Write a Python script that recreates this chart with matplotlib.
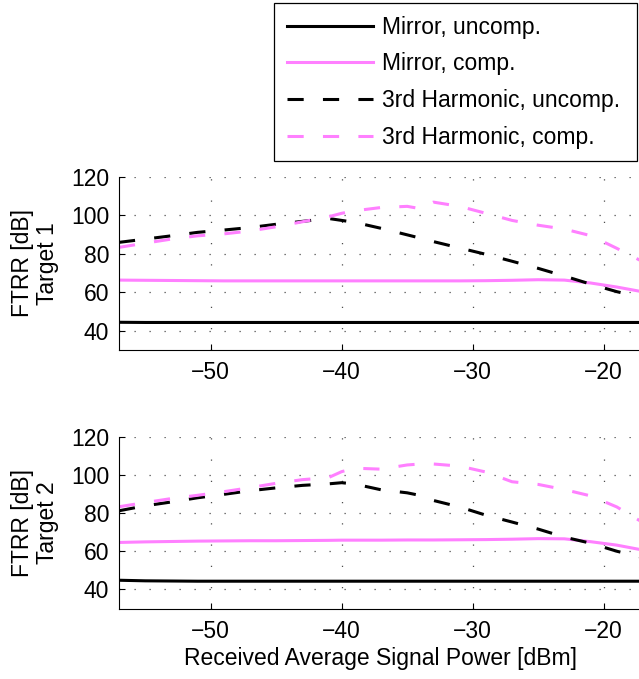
import matplotlib.pyplot as plt
import numpy as np

plt.rcParams['font.family'] = ['Liberation Sans', 'DejaVu Sans']
plt.rcParams['font.size'] = 16.5

# received average signal power [dBm]
x = [-57, -55, -53, -51, -49, -47, -45, -43, -41, -40, -39, -37,
     -35, -34, -33, -31, -29, -27, -25, -23, -21, -19, -17]

# target 1
mirror_unc1 = [44.4, 44.3, 44.3, 44.3, 44.3, 44.3, 44.3, 44.3, 44.3, 44.3, 44.3, 44.3,
               44.3, 44.3, 44.3, 44.3, 44.3, 44.3, 44.3, 44.3, 44.3, 44.3, 44.3]
mirror_comp1 = [66.3, 66.2, 66.1, 66.0, 65.9, 65.9, 65.9, 65.9, 65.9, 65.9, 65.9, 65.9,
                65.9, 65.9, 65.9, 65.9, 66.0, 66.2, 66.5, 66.3, 64.8, 62.7, 60.2]
harm_unc1 = [85.9, 87.6, 89.3, 91.1, 92.3, 93.6, 95.3, 96.8, 98.3, 97.3, 96.3, 93.2,
             89.8, 88.1, 86.3, 83.0, 79.7, 76.1, 72.4, 68.4, 64.2, 60.3, 57.1]
harm_comp1 = [83.3, 85.5, 87.6, 89.3, 90.3, 91.8, 94.0, 96.6, 99.2, 101.0, 102.3, 104.0,
              104.6, 103.4, 106.8, 104.6, 101.0, 97.3, 94.8, 92.8, 89.4, 82.8, 75.8]

# target 2
mirror_unc2 = [44.8, 44.5, 44.4, 44.3, 44.3, 44.3, 44.3, 44.3, 44.3, 44.3, 44.3, 44.3,
               44.3, 44.3, 44.3, 44.3, 44.3, 44.3, 44.3, 44.3, 44.3, 44.3, 44.3]
mirror_comp2 = [64.6, 64.9, 65.1, 65.3, 65.4, 65.5, 65.5, 65.6, 65.7, 65.8, 65.8, 65.8,
                65.9, 65.9, 65.9, 66.0, 66.1, 66.3, 66.6, 66.5, 65.0, 63.2, 60.6]
harm_unc2 = [81.2, 83.8, 85.8, 88.0, 89.8, 91.7, 93.2, 94.5, 95.3, 95.9, 95.2, 92.2,
             90.6, 89.2, 86.6, 83.2, 78.9, 75.3, 71.6, 67.4, 64.2, 60.0, 56.7]
harm_comp2 = [83.3, 85.5, 87.6, 89.3, 91.2, 93.3, 95.6, 97.5, 98.6, 101.7, 103.5, 103.0,
              105.2, 105.7, 105.7, 104.6, 101.5, 96.4, 95.0, 92.3, 89.0, 83.2, 75.0]

labels = ['Mirror, uncomp.', 'Mirror, comp.', '3rd Harmonic, uncomp.', '3rd Harmonic, comp.']
pink = '#ff80ff'
lw = 2.2
dash = (0, (5.3, 6.3))

W, H = 639, 679
fig = plt.figure(figsize=(W / 100, H / 100), dpi=100)

# axes run past the right edge of the figure (cropped like the original)
ax1 = fig.add_axes([119 / W, (H - 350) / H, 524 / W, 173.3 / H])
ax2 = fig.add_axes([119 / W, (H - 608.5) / H, 524 / W, 171.8 / H])

data = [(ax1, mirror_unc1, mirror_comp1, harm_unc1, harm_comp1, 'FTRR [dB]\nTarget 1'),
        (ax2, mirror_unc2, mirror_comp2, harm_unc2, harm_comp2, 'FTRR [dB]\nTarget 2')]

for ax, mu, mc, hu, hc, yl in data:
    l1, = ax.plot(x, mu, color='k', lw=lw)
    l2, = ax.plot(x, mc, color=pink, lw=lw)
    l3, = ax.plot(x, hu, color='k', lw=lw, ls=dash)
    l4, = ax.plot(x, hc, color=pink, lw=lw, ls=dash)
    ax.set_xlim(-57, -17)
    ax.set_ylim(30, 120)
    ax.set_xticks([-50, -40, -30, -20])
    ax.set_yticks([40, 60, 80, 100, 120])
    ax.spines['top'].set_visible(False)
    ax.spines['right'].set_visible(False)
    for s in ['left', 'bottom']:
        ax.spines[s].set_linewidth(0.8)
    ax.tick_params(direction='in', length=4, width=0.8, top=False, right=False)
    ax.tick_params(axis='y', pad=7)
    ax.tick_params(axis='x', pad=8)
    ax.set_axisbelow(True)
    ax.xaxis.grid(True, ls=(0, (1, 16)), color='0.3', lw=0.9)
    ax.yaxis.grid(True, ls=(0, (1, 11)), color='0.3', lw=0.9)
    ax.set_ylabel(yl, linespacing=1.15)
    ax.yaxis.set_label_coords(-0.114, 0.5)

ax2.set_xlabel('Received Average Signal Power [dBm]', labelpad=3)

leg = fig.legend([l1, l2, l3, l4], labels, loc='upper left',
                 bbox_to_anchor=(274 / W, (H - 160) / H, 363 / W, 157 / H),
                 mode='expand', handlelength=3.75, handletextpad=0.4,
                 labelspacing=0.6, borderpad=0.55, borderaxespad=0,
                 fancybox=False, framealpha=1, edgecolor='k')
leg.get_frame().set_linewidth(0.9)

plt.savefig('out.png', dpi=100)
